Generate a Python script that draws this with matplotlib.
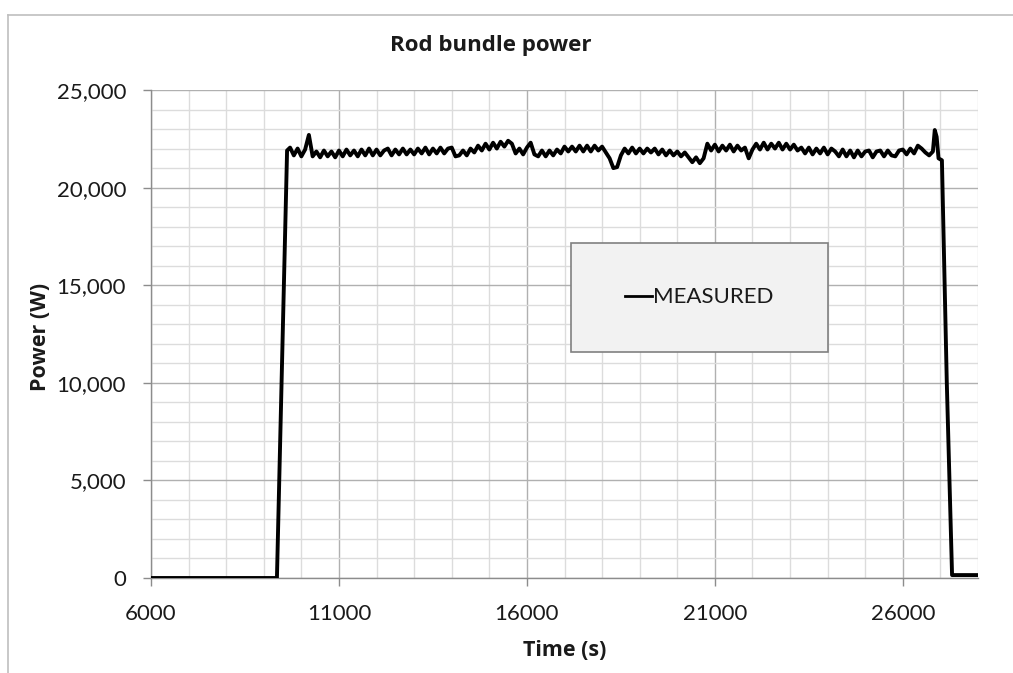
import numpy as np
import matplotlib
matplotlib.use("Agg")
import matplotlib.pyplot as plt
from matplotlib.patches import Rectangle
from matplotlib.lines import Line2D
from matplotlib.ticker import MultipleLocator, FuncFormatter

plt.rcParams['font.family'] = ['Lato', 'DejaVu Sans']
BOLD_FAMILY = ['Open Sans', 'DejaVu Sans']

# ---- data ----
start_time = [6000, 9350, 9620]
start_power = [0, 0, 21900]

plateau_t0 = 9700
plateau_step = 100
plateau_power = [
    22050, 21650, 22000, 21600, 21950,
    22700,
    21600,
    21850, 21550, 21900, 21600, 21850, 21550, 21900, 21600, 21950, 21650,
    21900, 21600, 21950, 21650, 22000, 21650, 21950, 21650, 21900, 22000, 21650, 21950, 21700,
    22000, 21700, 21950, 21700, 22000, 21750, 22050, 21700, 22000, 21750, 22050, 21750, 22000,
    22050, 21600, 21650, 21900, 21650, 22000, 21800,
    22150, 21900, 22250, 21950, 22300, 22000, 22350, 22100, 22400,
    22250, 21750, 22000, 21700, 22050,
    22300,
    21700, 21600, 21900, 21600, 21900, 21650, 21950, 21750,
    22100, 21850, 22100, 21850, 22150, 21850, 22150, 21850, 22150, 21900, 22100, 21800,
    21500, 21000, 21050, 21650,
    22000, 21750, 22050, 21750, 22000, 21750, 22000, 21800, 22000, 21700, 21950, 21650, 21900,
    21650, 21850, 21600, 21800,
    21550, 21300, 21550, 21250, 21500,
    22250, 21900, 22200, 21850, 22150, 21900, 22200, 21850, 22150, 21900, 22050,
    21500,
    21950,
    22250, 21950, 22300, 21950, 22250, 22000, 22300, 21950, 22250, 21950, 22200, 21900,
    22050, 21750, 22050, 21700, 22000, 21750, 22050, 21700, 22000,
    21850, 21600, 21950, 21600, 21900, 21550, 21900, 21600, 21850, 21900, 21550, 21850,
    21900, 21600, 21900, 21650, 21600, 21900,
    21950, 21700, 22000, 21750, 22150,
    22000, 21800, 21650, 21850,
]

end_time = [26850, 26900, 26950, 27040, 27170, 27310, 28000]
end_power = [22950, 22600, 21500, 21400, 10000, 150, 150]

plateau_time = plateau_t0 + plateau_step * np.arange(len(plateau_power))
time = np.concatenate([start_time, plateau_time, end_time])
power = np.concatenate([start_power, plateau_power, end_power])

series_label = "MEASURED"
title = "Rod bundle power"
xlabel = "Time (s)"
ylabel = "Power (W)"

# ---- figure ----
W, H = 1013, 673
fig = plt.figure(figsize=(W / 100, H / 100), dpi=100)
fig.patch.set_facecolor("white")

# outer chart border (left & top visible)
fig.add_artist(Line2D([8 / W, 8 / W], [0, 1 - 15 / H], transform=fig.transFigure,
                      color="#bfbfbf", lw=1.2))
fig.add_artist(Line2D([8 / W, 1.0], [1 - 15 / H, 1 - 15 / H], transform=fig.transFigure,
                      color="#bfbfbf", lw=1.2))

left, right, top, bottom = 151 / W, 978 / W, 1 - 90 / H, 1 - 578 / H
ax = fig.add_axes([left, bottom, right - left, top - bottom])

ax.set_xlim(6000, 28000)
ax.set_ylim(0, 25000)

ax.xaxis.set_major_locator(MultipleLocator(5000, offset=1000))
ax.xaxis.set_minor_locator(MultipleLocator(1000))
ax.yaxis.set_major_locator(MultipleLocator(5000))
ax.yaxis.set_minor_locator(MultipleLocator(1000))

ax.grid(which="minor", color="#dcdcdc", lw=1.0)
ax.grid(which="major", color="#b0b0b0", lw=1.0)
ax.set_axisbelow(True)

for s in ["top", "right"]:
    ax.spines[s].set_visible(False)
for s in ["left", "bottom"]:
    ax.spines[s].set_color("#8c8c8c")
    ax.spines[s].set_linewidth(1.0)

ax.tick_params(which="major", length=6, color="#8c8c8c", width=1.0,
               labelsize=16, labelcolor="#1a1a1a")
ax.tick_params(which="minor", length=0)
ax.tick_params(axis="y", pad=12)
ax.tick_params(axis="x", pad=13)
ax.yaxis.set_major_formatter(FuncFormatter(lambda v, p: f"{int(v):,}"))
ax.xaxis.set_major_formatter(FuncFormatter(lambda v, p: f"{int(v)}"))

line, = ax.plot(time, power, color="black", lw=2.8, label=series_label, zorder=3,
                solid_joinstyle="round")

# legend box
bx0, bx1 = (571 - 151) / 827, (828 - 151) / 827
by0, by1 = (578 - 352) / 488, (578 - 243) / 488
ax.add_patch(Rectangle((bx0, by0), bx1 - bx0, by1 - by0, transform=ax.transAxes,
                       facecolor="#f2f2f2", edgecolor="#808080", lw=1.2, zorder=5))
leg = ax.legend(handles=[line], loc="center",
                bbox_to_anchor=((bx0 + bx1) / 2, (by0 + by1) / 2),
                frameon=False, fontsize=16, handlelength=1.2, handletextpad=0.05)
leg.set_zorder(6)
for t in leg.get_texts():
    t.set_color("#1a1a1a")
for h in leg.legend_handles:
    h.set_linewidth(2.0)

fig.text(491 / W, 1 - 45 / H, title, ha="center", va="center", family=BOLD_FAMILY,
         fontsize=16, fontweight="bold", color="#1a1a1a")
fig.text(565 / W, 1 - 650 / H, xlabel, ha="center", va="center", family=BOLD_FAMILY,
         fontsize=15.5, fontweight="bold", color="#1a1a1a")
fig.text(40 / W, 1 - 337 / H, ylabel, ha="center", va="center", rotation=90,
         family=BOLD_FAMILY, fontsize=15.5, fontweight="bold", color="#1a1a1a")

fig.savefig("out.png", dpi=100, facecolor="white")
